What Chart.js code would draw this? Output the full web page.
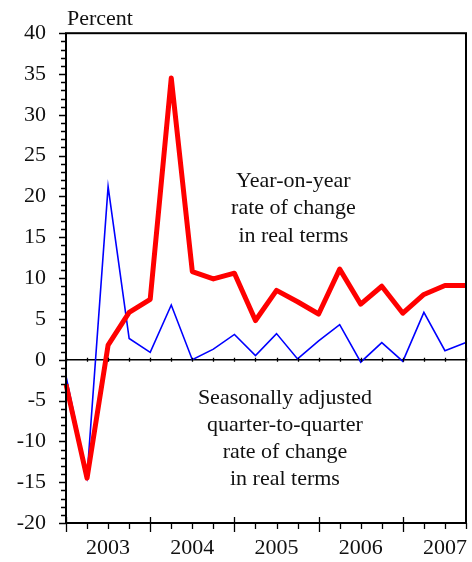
<!DOCTYPE html>
<html>
<head>
<meta charset="utf-8">
<script src="https://cdn.jsdelivr.net/npm/chart.js@4"></script>
<style>
  html, body { margin: 0; padding: 0; background: #fff; }
  #wrap { width: 472px; height: 562px; position: relative; }
</style>
</head>
<body>
<div id="wrap"><canvas id="chart"></canvas></div>
<script>
// Quarterly data, 2003 Q1 .. 2007 Q4
const quarters = [
    '2003Q1', '2003Q2', '2003Q3', '2003Q4',
    '2004Q1', '2004Q2', '2004Q3', '2004Q4',
    '2005Q1', '2005Q2', '2005Q3', '2005Q4',
    '2006Q1', '2006Q2', '2006Q3', '2006Q4',
    '2007Q1', '2007Q2', '2007Q3', '2007Q4'
];
// Year-on-year rate of change in real terms
const yearOnYear = [
    -3.0, -14.5, 1.8, 5.8,
    7.4, 34.5, 10.8, 9.9,
    10.6, 4.8, 8.5, 7.1,
    5.6, 11.1, 6.8, 9.0,
    5.7, 8.0, 9.1, 9.1
];
// Seasonally adjusted quarter-to-quarter rate of change in real terms
const quarterOnQuarter = [
    -2.0, -14.3, 21.2, 2.6,
    0.9, 6.7, 0.0, 1.3,
    3.1, 0.5, 3.2, 0.1,
    2.3, 4.3, -0.3, 2.1,
    -0.2, 5.8, 1.1, 2.1
];
const yearLabels = ['2003', '2004', '2005', '2006', '2007'];

const serif = "'Liberation Serif', 'Times New Roman', serif";

// tick marks, frame and in-plot notes
const framePlugin = {
    id: 'frame',
    afterDraw(chart) {
        const ctx = chart.ctx;
        const { left, right, top, bottom } = chart.chartArea;
        const xs = chart.scales.x;
        const ys = chart.scales.y;
        ctx.save();
        ctx.strokeStyle = '#000';
        ctx.lineWidth = 1.3;
        ctx.beginPath();
        for (let v = -20; v <= 40; v++) {
            const py = Math.round(ys.getPixelForValue(v)) + 0.5;
            const len = v % 5 === 0 ? 7 : 5;
            ctx.moveTo(left - len, py);
            ctx.lineTo(left, py);
        }
        const y0 = ys.getPixelForValue(0);
        for (let i = 0; i < quarters.length; i++) {
            const px = Math.round(xs.getPixelForValue(i)) + 0.5;
            if (i % 4 === 0) {
                ctx.moveTo(px, bottom - 6);
                ctx.lineTo(px, bottom + 9);
            } else {
                ctx.moveTo(px, bottom);
                ctx.lineTo(px, bottom + 6);
            }
            ctx.moveTo(px, y0 - 2);
            ctx.lineTo(px, y0 + 2);
        }
        ctx.stroke();

        ctx.lineWidth = 2;
        ctx.strokeRect(left, top, right - left, bottom - top);

        ctx.fillStyle = '#111';
        ctx.font = '22px ' + serif;
        ctx.textAlign = 'center';
        ctx.textBaseline = 'middle';
        const note1 = ['Year-on-year', 'rate of change', 'in real terms'];
        const note2 = ['Seasonally adjusted', 'quarter-to-quarter', 'rate of change', 'in real terms'];
        let nx = xs.getPixelForValue(10.8), ny = ys.getPixelForValue(21.9);
        note1.forEach((t, i) => ctx.fillText(t, nx, ny + i * 27.5));
        nx = xs.getPixelForValue(10.4);
        ny = ys.getPixelForValue(-4.7);
        note2.forEach((t, i) => ctx.fillText(t, nx, ny + i * 27));

        ctx.textAlign = 'left';
        ctx.textBaseline = 'alphabetic';
        ctx.fillText('Percent', left + 1, top - 8);
        ctx.restore();
    }
};

new Chart(document.getElementById('chart'), {
    type: 'line',
    data: {
        labels: quarters,
        datasets: [
            {
                label: 'Year-on-year',
                data: yearOnYear,
                borderColor: '#ff0000',
                borderWidth: 5,
                borderJoinStyle: 'round',
                pointRadius: 0,
                tension: 0,
                order: 0
            },
            {
                label: 'Quarter-to-quarter',
                data: quarterOnQuarter,
                borderColor: '#0000ff',
                borderWidth: 1.6,
                pointRadius: 0,
                tension: 0,
                order: 1
            }
        ]
    },
    options: {
        responsive: true,
        maintainAspectRatio: false,
        animation: false,
        layout: { padding: { left: 0, top: 32, right: 6, bottom: 0 } },
        plugins: {
            legend: { display: false },
            tooltip: { enabled: false }
        },
        scales: {
            x: {
                offset: false,
                grid: { display: false, drawTicks: false },
                border: { display: false },
                ticks: {
                    autoSkip: false,
                    maxRotation: 0,
                    padding: 12,
                    color: '#111',
                    font: { family: serif, size: 22 },
                    callback: function(value, index) {
                        return index % 4 === 2 ? yearLabels[Math.floor(index / 4)] : '';
                    }
                },
                afterFit: function(scale) {
                    scale.height = 39;
                    scale.paddingLeft = 0;
                    scale.paddingRight = 0;
                }
            },
            y: {
                min: -20,
                max: 40,
                grid: {
                    drawTicks: false,
                    color: ctx => ctx.tick && ctx.tick.value === 0 ? '#000' : 'rgba(0,0,0,0)',
                    lineWidth: 1.5
                },
                border: { display: false },
                ticks: {
                    stepSize: 5,
                    padding: 20,
                    color: '#111',
                    font: { family: serif, size: 22 }
                },
                afterFit: function(scale) { scale.width = 66; }
            }
        }
    },
    plugins: [framePlugin]
});
</script>
</body>
</html>
